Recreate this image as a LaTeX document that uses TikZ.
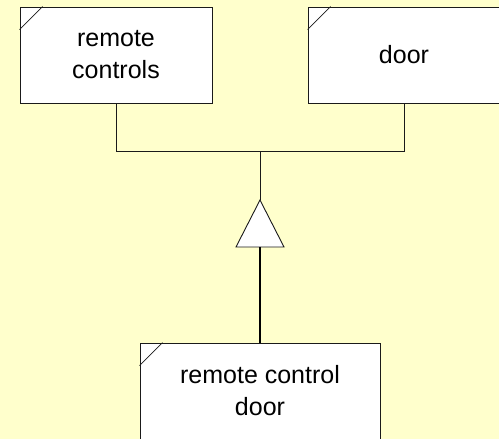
\documentclass[tikz,border=0pt]{standalone}
\usepackage{fontspec}
\setmainfont{Liberation Sans}
\definecolor{paper}{HTML}{FFFFCC}
\definecolor{ink}{HTML}{1A1A1A}
\begin{document}
\begin{tikzpicture}[x=1pt,y=-1pt,
  entity/.style={draw=ink, line width=0.9pt, fill=white, minimum width=192pt,
    minimum height=96pt, inner sep=0pt, align=center,
    font=\fontsize{25}{32}\selectfont},
  link/.style={draw=ink, line width=0.9pt},
  sublink/.style={draw=black, line width=1.6pt},
  corner/.style={draw=ink, line width=0.7pt}]
  % page and background
  \fill[paper] (0,0) rectangle (499,439);
  \clip (0,0) rectangle (499,439);
  \useasboundingbox (0,0) rectangle (499,439);

  % entity boxes (the door box runs past the right edge)
  \node[entity] (rc)  at (116,55)  {remote\\controls};
  \node[entity, minimum width=200pt] (door) at (408,55) {\hspace*{-8pt}door};
  \node[entity, minimum width=240pt] (rcd) at (260,391) {remote control\\door};

  % folded-corner marks
  \foreach \n in {rc,door,rcd}
    \draw[corner] ([yshift=-23pt]\n.north west) -- ([xshift=23pt]\n.north west);

  % generalisation symbol
  \coordinate (join) at (260,151);
  \coordinate (apex) at (260,200);
  \coordinate (base) at (260,247);
  \draw[link] (rc.south) |- (join);
  \draw[link] ([xshift=-4pt]door.south) |- (join);
  \draw[link] (join) -- (apex);
  \draw[link, fill=white, line join=miter] (apex) -- ([xshift=-24pt]base) -- ([xshift=24pt]base) -- cycle;
  \draw[sublink] (base) -- (rcd.north);
\end{tikzpicture}
\end{document}
